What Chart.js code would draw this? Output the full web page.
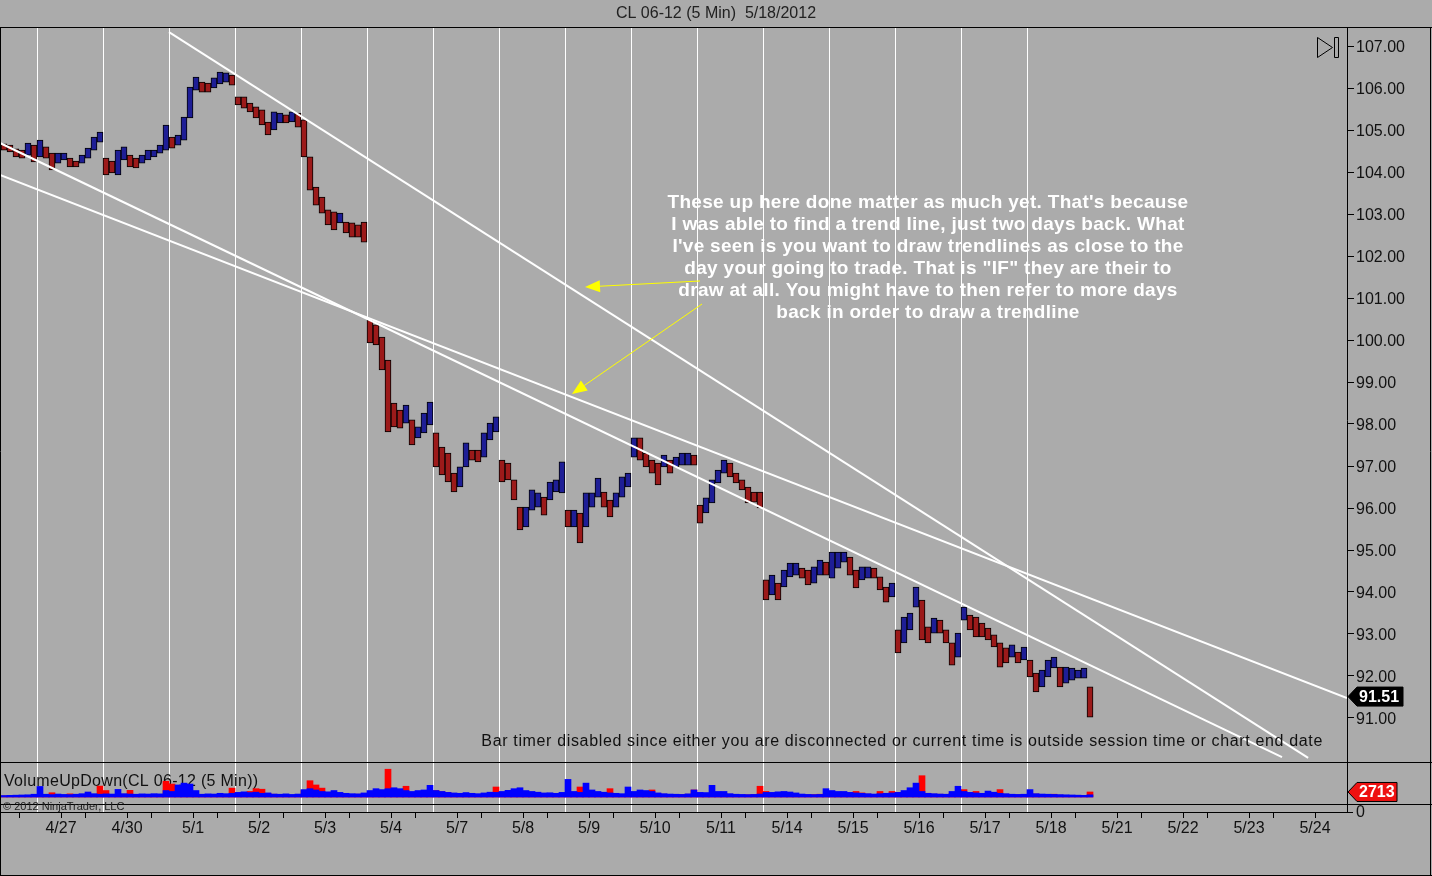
<!DOCTYPE html>
<html>
<head>
<meta charset="utf-8">
<title>CL 06-12 (5 Min) 5/18/2012</title>
<script src="https://cdn.jsdelivr.net/npm/chart.js@4.4.1/dist/chart.umd.min.js"></script>
<style>
  html, body { margin: 0; padding: 0; background: #ababab; }
  #wrap { width: 1432px; height: 876px; }
</style>
</head>
<body>
<div id="wrap"><canvas id="clChart" width="1432" height="876"></canvas></div>
<script>
// one label per trading day, the white session lines sit at x = 0..15 (days)
const dateLabels = ['4/27', '4/30', '5/1', '5/2', '5/3', '5/4', '5/7', '5/8', '5/9', '5/10',
  '5/11', '5/14', '5/15', '5/16', '5/17', '5/18', '5/21', '5/22', '5/23', '5/24'];
const sessionCount = 16;
const priceTicks = [91, 92, 93, 94, 95, 96, 97, 98, 99, 100, 101, 102, 103, 104, 105, 106, 107];

// price range per sample, 11 samples per session
const priceHigh = [
  104.67, 104.64, 104.55, 104.52, 104.69, 104.64,
  104.76, 104.60, 104.45, 104.45, 104.45, 104.33, 104.26, 104.40, 104.57, 104.83, 104.95,
  104.33, 104.26, 104.52, 104.60, 104.40, 104.33, 104.40, 104.52, 104.52, 104.64, 105.12,
  104.83, 104.88, 105.31, 106.02, 106.26, 106.14, 106.12, 106.24, 106.38, 106.36, 106.31,
  105.79, 105.79, 105.64, 105.55, 105.48, 105.19, 105.43, 105.40, 105.36, 105.43, 105.40,
  105.24, 104.36, 103.64, 103.40, 103.10, 103.05, 103.02, 102.81, 102.79, 102.74, 102.81,
  100.48, 100.36, 100.07, 99.52, 98.50, 98.33, 98.45, 98.10, 97.93, 98.26, 98.52,
  97.79, 97.45, 97.31, 96.83, 96.98, 97.55, 97.38, 97.38, 97.79, 98.02, 98.17,
  97.14, 97.07, 96.67, 96.02, 96.02, 96.43, 96.36, 96.26, 96.62, 96.67, 97.10,
  95.95, 95.95, 95.88, 96.36, 96.36, 96.71, 96.38, 96.19, 96.36, 96.74, 96.83,
  97.67, 97.67, 97.31, 97.14, 97.07, 97.26, 97.14, 97.21, 97.31, 97.31, 97.26,
  96.07, 96.24, 96.67, 96.90, 97.14, 97.07, 96.83, 96.67, 96.50, 96.38, 96.38,
  94.29, 94.40, 94.21, 94.52, 94.69, 94.69, 94.57, 94.52, 94.60, 94.76, 94.71,
  94.95, 94.95, 94.95, 94.83, 94.52, 94.60, 94.60, 94.57, 94.36, 94.12, 94.21,
  93.10, 93.40, 93.50, 94.12, 93.81, 93.17, 93.38, 93.33, 93.10, 92.79, 93.02,
  93.64, 93.45, 93.40, 93.26, 93.14, 92.98, 92.79, 92.67, 92.74, 92.57, 92.69,
  92.38, 92.07, 92.14, 92.38, 92.45, 92.21, 92.21, 92.19, 92.14, 92.19, 91.74
];
const priceLow = [
  104.52, 104.48, 104.36, 104.33, 104.40, 104.24,
  104.36, 104.33, 104.05, 104.21, 104.29, 104.12, 104.12, 104.21, 104.33, 104.52, 104.71,
  103.93, 103.98, 103.93, 104.29, 104.12, 104.10, 104.21, 104.29, 104.36, 104.45, 104.52,
  104.57, 104.64, 104.76, 105.29, 105.95, 105.90, 105.90, 106.00, 106.10, 106.14, 106.07,
  105.60, 105.52, 105.43, 105.29, 105.12, 104.88, 105.00, 105.17, 105.17, 105.19, 105.07,
  104.36, 103.57, 103.21, 103.02, 102.74, 102.62, 102.79, 102.55, 102.45, 102.45, 102.33,
  99.93, 99.88, 99.29, 97.81, 97.93, 97.90, 98.02, 97.50, 97.67, 97.79, 97.98,
  96.98, 96.79, 96.62, 96.38, 96.50, 96.98, 97.14, 97.10, 97.21, 97.62, 97.81,
  96.62, 96.67, 96.19, 95.48, 95.55, 95.95, 96.02, 95.83, 96.19, 96.38, 96.36,
  95.55, 95.55, 95.17, 95.55, 96.02, 96.26, 96.02, 95.79, 96.02, 96.26, 96.50,
  97.21, 97.14, 96.98, 96.83, 96.55, 96.98, 96.83, 96.98, 97.02, 97.02, 97.02,
  95.64, 95.88, 96.12, 96.60, 96.83, 96.74, 96.60, 96.43, 96.12, 96.14, 96.00,
  93.81, 93.93, 93.81, 94.12, 94.36, 94.40, 94.33, 94.17, 94.21, 94.40, 94.40,
  94.33, 94.57, 94.71, 94.40, 94.10, 94.29, 94.33, 94.33, 94.05, 93.76, 93.88,
  92.55, 92.79, 93.10, 93.64, 92.86, 92.79, 93.02, 93.02, 92.79, 92.26, 92.45,
  93.33, 93.10, 92.93, 92.93, 92.86, 92.69, 92.21, 92.31, 92.45, 92.31, 92.38,
  91.98, 91.62, 91.74, 91.98, 92.19, 91.74, 91.83, 91.90, 91.95, 91.95, 91.02
];

// VolumeUpDown, contracts per sample: up volume (blue) and down volume (red)
const volumeUp = [
  800, 900, 1000, 1100, 1200, 1500,
  5700, 1500, 1300, 1600, 1400, 1300, 1500, 1800, 2700, 1800, 1500,
  1700, 1600, 4100, 1800, 1600, 1500, 1700, 1600, 1800, 1700, 3500,
  3000, 6500, 7500, 7000, 3500, 1500, 1700, 1600, 2000, 1800, 2000,
  2500, 2800, 2400, 2600, 2000, 2200, 1600, 1500, 1700, 1400, 1600,
  4000, 4500, 3800, 3000, 2800, 3500, 2500, 2000, 1800, 1700, 2200,
  3500, 4500, 4000, 4500, 5000, 4500, 3500, 3000, 3500, 3800, 6300,
  3500, 3000, 2500, 2200, 2000, 2400, 2000, 1800, 2200, 2600, 2500,
  3000, 3600, 4500, 5000, 3500, 3000, 2600, 2200, 2300, 2000, 2500,
  9500, 3000, 2500, 7500, 3800, 3000, 2600, 2200, 2000, 1800, 5400,
  3000, 3800, 3500, 3000, 2200, 1800, 1600, 1500, 1400, 1700, 3800,
  2500, 2400, 6300, 3000, 3000, 1800, 1500, 1400, 1300, 1400, 1600,
  2500, 2500, 2800, 3000, 2700, 2200, 1600, 1400, 1300, 1400, 4500,
  3500, 3000, 3000, 2500, 2200, 2000, 1800, 1600, 1800, 2000, 2200,
  2500, 3500, 5000, 7500, 3000, 2000, 1800, 1600, 1500, 3000, 5800,
  3000, 2500, 2200, 2000, 3200, 2600, 2000, 1800, 1500, 1400, 1500,
  4000, 1800, 1600, 1500, 1400, 1300, 1200, 1100, 1000, 900, 1200
];
const volumeDown = [
  600, 700, 500, 600, 500, 700,
  600, 1200, 2300, 900, 1000, 1700, 800, 1000, 900, 1200, 5900,
  3500, 1000, 1200, 1500, 3600, 1000, 900, 1100, 800, 1200, 8500,
  7000, 1500, 1200, 1500, 1200, 900, 800, 1000, 900, 1300, 4800,
  1500, 1600, 3000, 4500, 4200, 2000, 1500, 1200, 1000, 900, 1300,
  3500, 8800, 6500, 4800, 2500, 2000, 1500, 1600, 1400, 1500, 1600,
  2000, 2500, 2800, 15000, 3000, 2500, 5800, 2500, 1800, 2000, 2200,
  3500, 2800, 2400, 1800, 1500, 1200, 1300, 1200, 1600, 1500, 5400,
  2500, 2000, 2200, 2500, 2000, 1800, 1500, 1400, 1300, 1200, 1600,
  1500, 2000, 5400, 2500, 2800, 2400, 2000, 4500, 1500, 1400, 1500,
  1600, 2000, 2500, 3800, 2000, 1500, 1400, 1200, 1300, 1500, 3800,
  2000, 1800, 1800, 2200, 2000, 1500, 1200, 1000, 1200, 1300, 5800,
  3000, 1500, 1500, 1400, 1500, 1400, 1300, 1200, 1300, 1500, 1500,
  2800, 2500, 2000, 2200, 3000, 2200, 1600, 1200, 3000, 2000, 3000,
  2500, 2000, 2500, 3000, 11500, 2000, 1500, 1500, 1300, 2000, 2500,
  4000, 2200, 3000, 1800, 2000, 2500, 4000, 1500, 1300, 1200, 1000,
  1500, 1600, 1200, 1000, 1500, 1000, 900, 800, 700, 800, 2713
];
const lastPrice = 91.51;
const lastVolume = 2713;

// hand drawn trend lines, [day, price] end points
const trendSteep = [[2.0, 107.33], [19.26, 90.05]];
const trendUpper = [[-0.5606, 104.69], [18.864, 90.07]];
const trendLower = [[-0.5606, 103.93], [19.848, 91.476]];
// yellow arrows, [day, price] from tail to tip
const arrowOne = [[10.045, 101.405], [8.303, 101.262]];
const arrowTwo = [[10.076, 100.857], [8.106, 98.714]];

const noteLines = [
  'These up here done matter as much yet. That\'s because',
  'I was able to find a trend line, just two days back. What',
  'I\'ve seen is you want to draw trendlines as close to the',
  'day your going to trade. That is "IF" they are their to',
  'draw at all. You might have to then refer to more days',
  'back in order to draw a trendline'
];

const FONT = '"Liberation Sans", Arial, sans-serif';
const BG = '#ababab';
const PANEL_BOTTOM = 762;   // price panel / volume panel split
const VOLUME_BOTTOM = 804;  // volume panel / time strip split

// 11 samples per day, first sample half a day before the 4/27 line
const sampleX = i => (i - 5.5) / 11;

function candleColor(ctx) {
  const i = ctx.dataIndex;
  if (i === 0) return '#9c1a1a';
  const mid = priceHigh[i] + priceLow[i];
  const prev = priceHigh[i - 1] + priceLow[i - 1];
  return mid >= prev ? '#1e1e96' : '#9c1a1a';
}

function lineData(pts) {
  return pts.map(p => ({ x: p[0], y: p[1] }));
}

function dateTicks() {
  const ticks = [];
  for (let k = 0; k < dateLabels.length; k++) {
    ticks.push({ value: k - 18 / 66 });
    ticks.push({ value: k + 24 / 66 });
  }
  return ticks;
}

function drawArrow(ctx, x1, y1, x2, y2) {
  const a = Math.atan2(y2 - y1, x2 - x1);
  const len = 15, half = 6;
  const bx = x2 - len * Math.cos(a), by = y2 - len * Math.sin(a);
  ctx.beginPath();
  ctx.moveTo(x1, y1);
  ctx.lineTo(bx, by);
  ctx.stroke();
  ctx.beginPath();
  ctx.moveTo(x2, y2);
  ctx.lineTo(bx + half * Math.sin(a), by - half * Math.cos(a));
  ctx.lineTo(bx - half * Math.sin(a), by + half * Math.cos(a));
  ctx.closePath();
  ctx.fill();
}

function drawTag(ctx, y, text, fill, width) {
  const x0 = 1348, tip = 9, h = 19;
  ctx.beginPath();
  ctx.moveTo(x0, y);
  ctx.lineTo(x0 + tip, y - h / 2);
  ctx.lineTo(x0 + tip + width, y - h / 2);
  ctx.lineTo(x0 + tip + width, y + h / 2);
  ctx.lineTo(x0 + tip, y + h / 2);
  ctx.closePath();
  ctx.fillStyle = fill;
  ctx.fill();
  ctx.strokeStyle = '#000';
  ctx.lineWidth = 1;
  ctx.stroke();
  ctx.fillStyle = '#fff';
  ctx.font = 'bold 16px ' + FONT;
  ctx.textAlign = 'left';
  ctx.textBaseline = 'middle';
  ctx.fillText(text, x0 + tip + 2, y + 1);
}

// NinjaTrader style frame, session lines, texts and tags
const ninjaDecor = {
  id: 'ninjaDecor',
  beforeDraw(chart) {
    const { ctx, width, height } = chart;
    ctx.save();
    ctx.fillStyle = BG;
    ctx.fillRect(0, 0, width, height);
    ctx.restore();
  },
  beforeDatasetsDraw(chart) {
    const { ctx, chartArea, scales: { x } } = chart;
    ctx.save();
    ctx.strokeStyle = '#ffffff';
    ctx.lineWidth = 1;
    for (let k = 0; k < sessionCount; k++) {
      const px = Math.round(x.getPixelForValue(k)) + 0.5;
      ctx.beginPath();
      ctx.moveTo(px, chartArea.top);
      ctx.lineTo(px, chartArea.bottom);
      ctx.stroke();
    }
    ctx.fillStyle = '#111';
    ctx.font = '16px ' + FONT;
    ctx.letterSpacing = '0.3px';
    ctx.textAlign = 'left';
    ctx.textBaseline = 'middle';
    ctx.fillText('VolumeUpDown(CL 06-12 (5 Min))', 4, 782);
    ctx.restore();
  },
  afterDraw(chart) {
    const { ctx, width, height, chartArea, scales: { x, y, yVol } } = chart;
    ctx.save();

    // panel borders
    ctx.strokeStyle = '#000';
    ctx.lineWidth = 1;
    ctx.beginPath();
    ctx.moveTo(0, 27.5); ctx.lineTo(width, 27.5);
    ctx.moveTo(0, PANEL_BOTTOM + 0.5); ctx.lineTo(width, PANEL_BOTTOM + 0.5);
    ctx.moveTo(0, VOLUME_BOTTOM + 0.5); ctx.lineTo(width, VOLUME_BOTTOM + 0.5);
    ctx.moveTo(0, height - 0.5); ctx.lineTo(width, height - 0.5);
    ctx.moveTo(0.5, 27); ctx.lineTo(0.5, height);
    ctx.moveTo(width - 1.5, 27); ctx.lineTo(width - 1.5, height);
    ctx.moveTo(chartArea.right, chartArea.bottom + 0.5); ctx.lineTo(chartArea.right + 6, chartArea.bottom + 0.5);
    ctx.stroke();

    // skip-to-end button
    ctx.beginPath();
    ctx.moveTo(1317.5, 37.5); ctx.lineTo(1332.5, 47.5); ctx.lineTo(1317.5, 57.5); ctx.closePath();
    ctx.rect(1334.5, 37.5, 4, 20);
    ctx.stroke();

    // volume scale zero
    ctx.fillStyle = '#111';
    ctx.font = '16px ' + FONT;
    ctx.textAlign = 'left';
    ctx.textBaseline = 'middle';
    ctx.fillText('0', 1356, chartArea.bottom + 1);

    // bar timer message
    ctx.textAlign = 'right';
    ctx.letterSpacing = '0.65px';
    ctx.fillText('Bar timer disabled since either you are disconnected or current time is outside session time or chart end date', 1323, 742);

    // copyright
    ctx.letterSpacing = '0px';
    ctx.font = '11px ' + FONT;
    ctx.textAlign = 'left';
    ctx.fillStyle = '#222';
    ctx.fillText('\u00a9 2012 NinjaTrader, LLC', 3, 807);

    // annotation
    ctx.fillStyle = '#ffffff';
    ctx.font = 'bold 19px ' + FONT;
    ctx.letterSpacing = '0.3px';
    ctx.textAlign = 'center';
    noteLines.forEach((t, j) => ctx.fillText(t, 928, 203 + j * 22));
    ctx.letterSpacing = '0px';

    // arrows
    ctx.strokeStyle = '#ffff00';
    ctx.fillStyle = '#ffff00';
    ctx.lineWidth = 1;
    [arrowOne, arrowTwo].forEach(a => {
      drawArrow(ctx,
        x.getPixelForValue(a[0][0]), y.getPixelForValue(a[0][1]),
        x.getPixelForValue(a[1][0]), y.getPixelForValue(a[1][1]));
    });

    // last value tags
    drawTag(ctx, y.getPixelForValue(lastPrice), lastPrice.toFixed(2), '#000000', 46);
    drawTag(ctx, yVol.getPixelForValue(lastVolume), String(lastVolume), '#ee1111', 40);

    ctx.restore();
  }
};

document.addEventListener('DOMContentLoaded', () => {
  const trendStyle = {
    type: 'line',
    yAxisID: 'y',
    borderColor: '#ffffff',
    borderWidth: 2,
    pointRadius: 0,
    order: 0,
    clip: { left: 0, top: 0, right: 0, bottom: -50 }
  };

  new Chart(document.getElementById('clChart'), {
    type: 'bar',
    data: {
      datasets: [
        Object.assign({ label: 'trend 1', data: lineData(trendSteep) }, trendStyle),
        Object.assign({ label: 'trend 2', data: lineData(trendUpper) }, trendStyle),
        Object.assign({ label: 'trend 3', data: lineData(trendLower) }, trendStyle),
        {
          label: 'CL 06-12',
          yAxisID: 'y',
          grouped: false,
          barThickness: 6,
          data: priceHigh.map((h, i) => ({ x: sampleX(i), y: [priceLow[i], h] })),
          backgroundColor: candleColor,
          borderColor: '#000000',
          borderWidth: 1,
          borderSkipped: false,
          order: 1
        },
        {
          label: 'Volume up',
          yAxisID: 'yVol',
          grouped: false,
          barThickness: 6,
          data: volumeUp.map((v, i) => ({ x: sampleX(i), y: v })),
          backgroundColor: '#0000ff',
          borderWidth: 0,
          order: 2
        },
        {
          label: 'Volume down',
          yAxisID: 'yVol',
          grouped: false,
          barThickness: 6,
          data: volumeDown.map((v, i) => ({ x: sampleX(i), y: v })),
          backgroundColor: '#ff0000',
          borderWidth: 0,
          order: 3
        }
      ]
    },
    options: {
      responsive: false,
      animation: false,
      events: [],
      layout: { padding: 0 },
      plugins: {
        legend: { display: false },
        tooltip: { enabled: false },
        title: {
          display: true,
          text: 'CL 06-12 (5 Min)  5/18/2012',
          color: '#222',
          font: { family: FONT, size: 16, weight: 'normal' },
          padding: { top: 4, bottom: 4.8 }
        }
      },
      scales: {
        x: {
          type: 'linear',
          position: 'bottom',
          offset: false,
          min: -37 / 66,
          max: 1310 / 66,
          afterBuildTicks: s => { s.ticks = dateTicks(); },
          afterFit: s => { s.height = 64; },
          grid: { offset: false, drawOnChartArea: false, drawTicks: true, tickLength: 6, color: '#000' },
          border: { display: true, color: '#000' },
          ticks: {
            autoSkip: false,
            maxRotation: 0,
            padding: 1,
            color: '#111',
            font: { family: FONT, size: 16 },
            callback: (v, i) => (i % 2 ? dateLabels[(i - 1) / 2] : '')
          }
        },
        y: {
          position: 'right',
          min: 107 - 766 / 42,
          max: 107 + 18 / 42,
          afterBuildTicks: s => { s.ticks = priceTicks.map(v => ({ value: v })); },
          afterFit: s => { s.width = 85; },
          grid: { drawOnChartArea: false, drawTicks: true, tickLength: 7, color: '#000' },
          border: { display: true, color: '#000' },
          ticks: {
            padding: 2,
            labelOffset: 2,
            color: '#111',
            font: { family: FONT, size: 16 },
            callback: v => Number(v).toFixed(2)
          }
        },
        yVol: {
          display: false,
          position: 'right',
          min: -8100,
          max: -8100 + 784 * 540
        }
      }
    },
    plugins: [ninjaDecor]
  });
});
</script>
</body>
</html>
